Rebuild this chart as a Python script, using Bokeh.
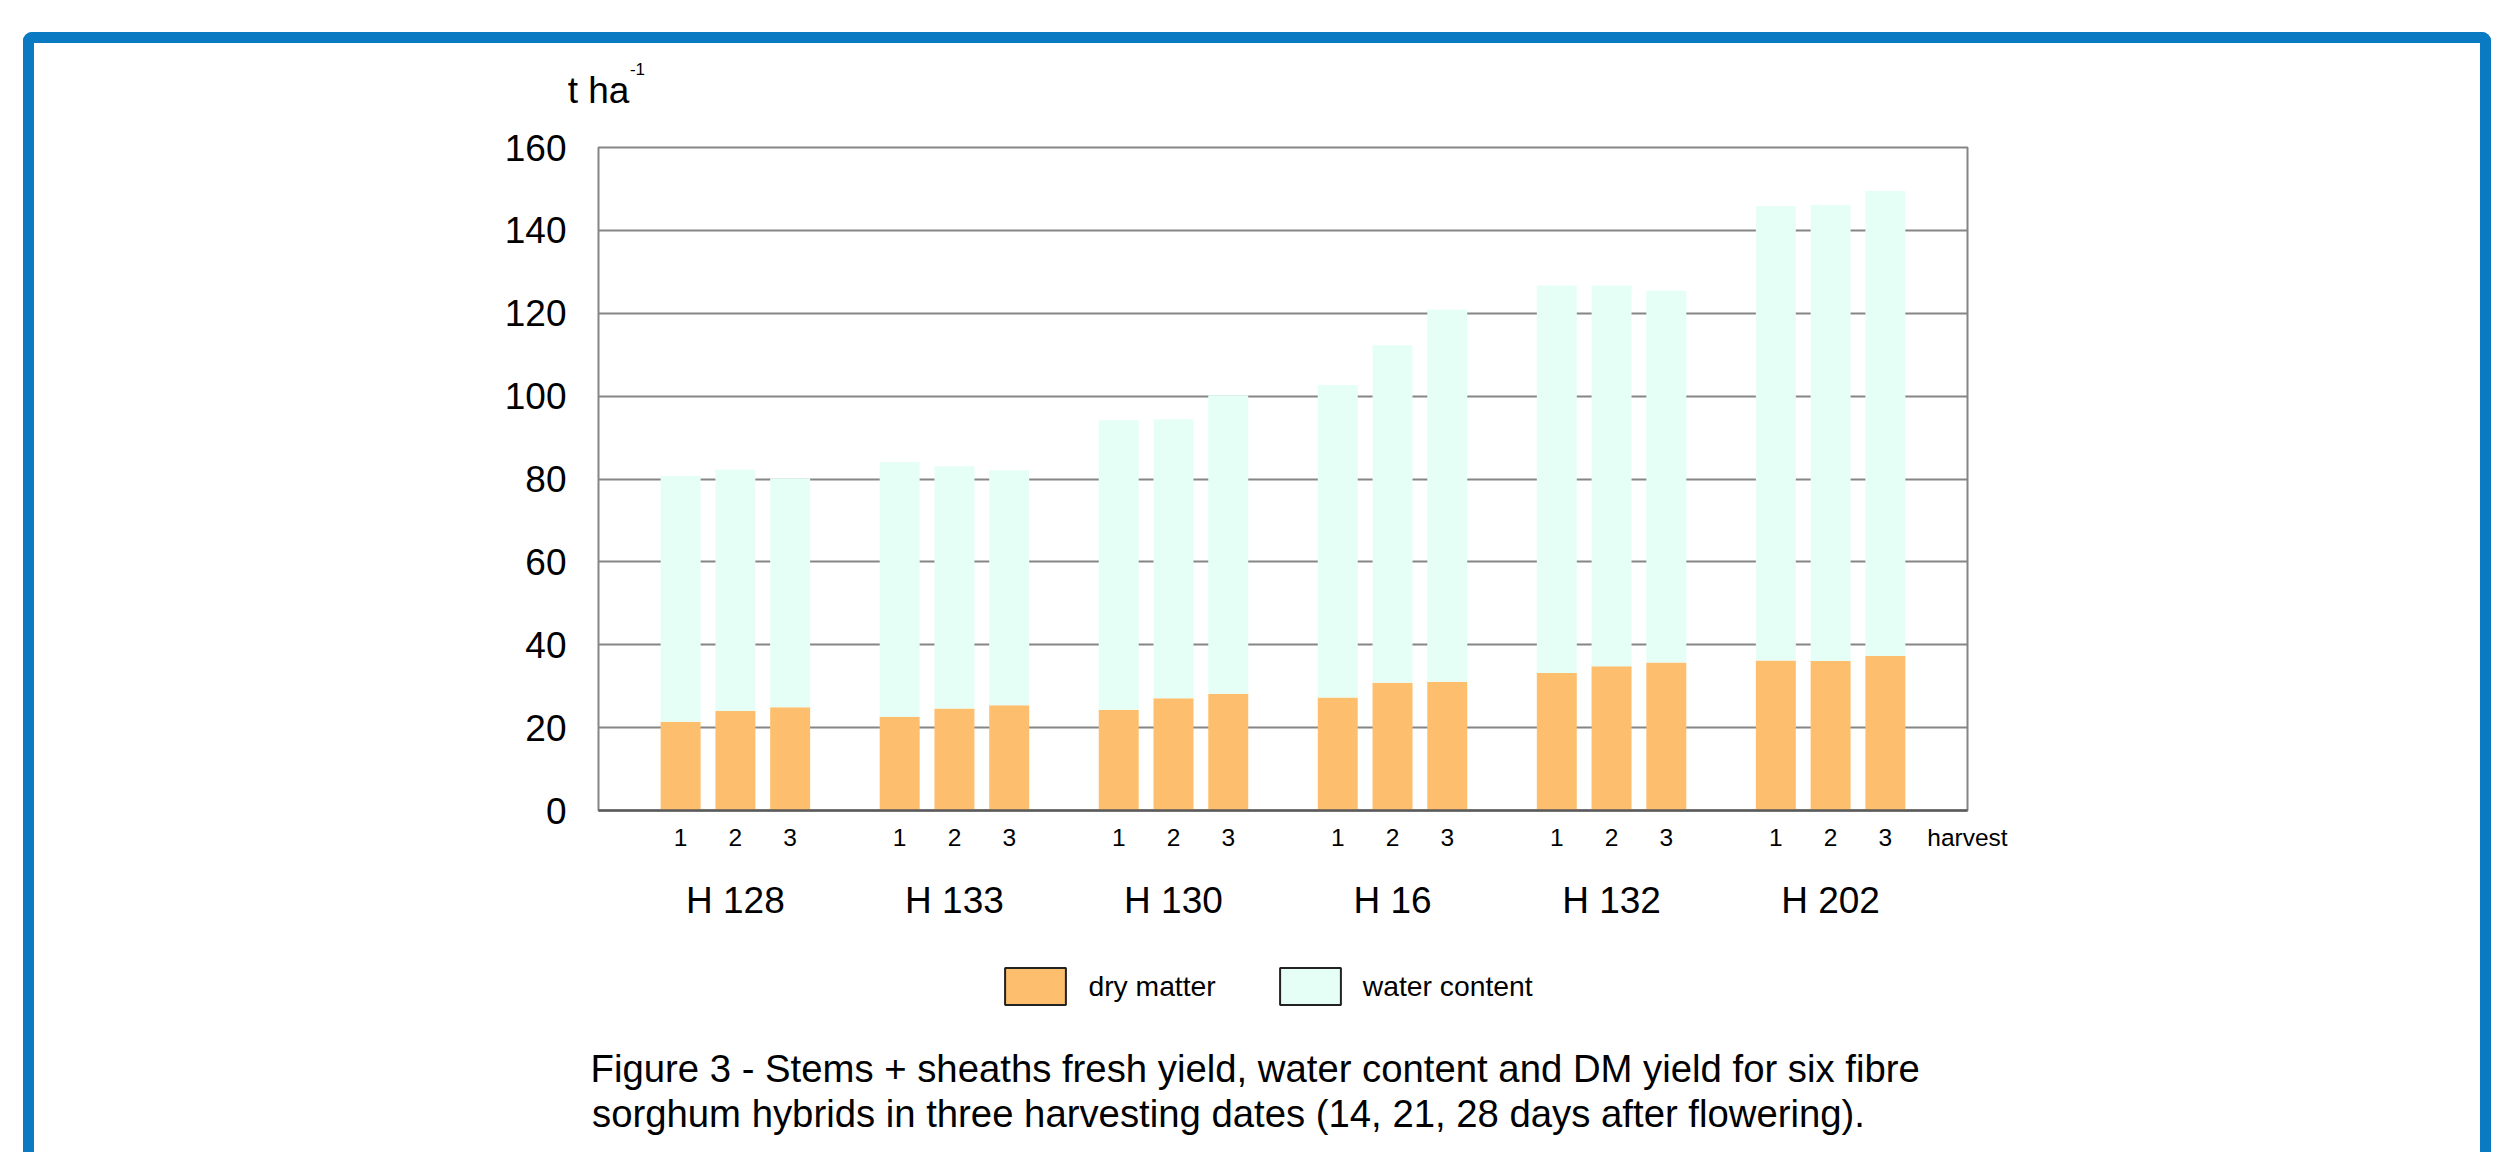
from bokeh.plotting import figure
from bokeh.layouts import column
from bokeh.models import (ColumnDataSource, Range1d, FixedTicker, LinearAxis,
                          Legend, LegendItem, Title)
from bokeh.embed import file_html
from bokeh.resources import INLINE

# ---------------- data ----------------
hybrids = ["H 128", "H 133", "H 130", "H 16", "H 132", "H 202"]
harvests = ["1", "2", "3"]
dry_matter = [21.4, 24.0, 24.9,
              22.6, 24.6, 25.4,
              24.3, 27.1, 28.2,
              27.3, 30.8, 31.1,
              33.2, 34.8, 35.7,
              36.2, 36.1, 37.3]
water_content = [59.3, 58.3, 55.3,
                 61.5, 58.5, 56.7,
                 69.9, 67.3, 72.0,
                 75.4, 81.5, 89.8,
                 93.5, 91.9, 89.7,
                 109.7, 110.0, 112.2]
y_ticks = [0, 20, 40, 60, 80, 100, 120, 140, 160]
legend_labels = ["dry matter", "water content"]
y_unit = "t ha"
y_unit_sup = "-1"
x_axis_name = "harvest"
caption_lines = [
    "Figure 3 - Stems + sheaths fresh yield, water content and DM yield for six fibre",
    "sorghum hybrids in three harvesting dates (14, 21, 28 days after flowering).",
]

# ---------------- style / layout ----------------
ORANGE = "#FDBF6D"
MINT = "#E5FFF7"
BLUE = "#0A7BC2"
GRID = "#858585"
FONT = "Liberation Sans"

OX, OY = 34, 43            # page position of the content (inside the blue frame)
W = 2446
H1 = 900                   # chart figure height
H2 = 1152 - OY - H1        # legend + caption strip height
FL, FR, FT, FB = 564, 1933, 104, 767   # plot frame inside the chart canvas
X0, X1 = -1.5, 23.5
Y0, Y1 = 0, 160
PXU = (FR - FL) / (X1 - X0)


def xpage(px):
    """x data value that sits at page pixel px"""
    return X0 + (px - OX - FL) / PXU


n_h = len(harvests)
xs = [g * (n_h + 1) + h for g in range(len(hybrids)) for h in range(n_h)]
gx = [g * (n_h + 1) + (n_h - 1) / 2 for g in range(len(hybrids))]
src = ColumnDataSource(dict(x=xs, dry=dry_matter, water=water_content))

# ================= chart =================
p = figure(width=W, height=H1, x_range=Range1d(X0, X1), y_range=Range1d(Y0, Y1),
           output_backend="svg", toolbar_location=None,
           min_border_left=FL, min_border_right=W - FR,
           min_border_top=FT, min_border_bottom=H1 - FB)
p.title.visible = False
p.background_fill_color = "white"
p.border_fill_color = "white"
p.outline_line_color = GRID
p.outline_line_width = 2

p.vbar_stack(["dry", "water"], x="x", width=0.73, color=[ORANGE, MINT],
             line_color=None, source=src)

p.xgrid.visible = False
p.ygrid.grid_line_color = GRID
p.ygrid.grid_line_width = 2

# y axis
p.yaxis.ticker = FixedTicker(ticks=y_ticks)
p.yaxis.axis_line_color = None
p.yaxis.major_tick_line_color = None
p.yaxis.minor_tick_line_color = None
p.yaxis.major_tick_out = 0
p.yaxis.major_label_standoff = 32
p.yaxis.major_label_text_font = FONT
p.yaxis.major_label_text_font_size = "37px"
p.yaxis.major_label_text_color = "black"

# x axis: harvest numbers (+ the word "harvest" at the right end)
x_end = X1 - 0.001
p.xaxis.ticker = FixedTicker(ticks=xs + [x_end])
overrides = {x: harvests[i % n_h] for i, x in enumerate(xs)}
overrides[x_end] = x_axis_name
p.xaxis.major_label_overrides = overrides
p.xaxis.axis_line_color = "#5a5a5a"
p.xaxis.axis_line_width = 2.5
p.xaxis.major_tick_line_color = None
p.xaxis.minor_tick_line_color = None
p.xaxis.major_tick_out = 0
p.xaxis.major_label_standoff = 13
p.xaxis.major_label_text_font = FONT
p.xaxis.major_label_text_font_size = "24.5px"
p.xaxis.major_label_text_color = "black"


def bare_axis(ticks, labels, standoff, size):
    ax = LinearAxis(ticker=FixedTicker(ticks=ticks),
                    major_label_overrides=dict(zip(ticks, labels)))
    ax.axis_line_color = None
    ax.major_tick_line_color = None
    ax.minor_tick_line_color = None
    ax.major_tick_out = 0
    ax.major_tick_in = 0
    ax.major_label_standoff = standoff
    ax.major_label_text_font = FONT
    ax.major_label_text_font_size = size
    ax.major_label_text_color = "black"
    return ax


# hybrid names under each group of bars
p.add_layout(bare_axis(gx, hybrids, 26, "37px"), "below")

# unit "t ha-1" above the y axis
p.add_layout(bare_axis([X0 + 0.001], [y_unit], 37, "37px"), "above")
p.add_layout(bare_axis([xpage(637)], [y_unit_sup], -8, "17px"), "above")

# ================= legend + caption strip =================
# (its plot frame is aligned with the chart's frame by the column layout,
#  so x is expressed in page pixels over that frame)
CAP_TOP = 1046                      # page y of the caption block top
q = figure(width=W, height=H2, x_range=Range1d(OX + FL, OX + FR), y_range=Range1d(0, 1),
           output_backend="svg", toolbar_location=None,
           x_axis_location=None, y_axis_location=None,
           min_border_left=0, min_border_right=0,
           min_border_top=0, min_border_bottom=(OY + H1 + H2) - CAP_TOP)
q.title.visible = False
q.grid.visible = False
q.outline_line_color = None
q.background_fill_color = "white"
q.border_fill_color = "white"

# hidden copies of the two series, used only for the legend swatches
r_dm = q.vbar(x="x", top="dry", width=0.73, source=src, fill_color=ORANGE,
              line_color="#222222", line_width=2, visible=False)
r_wc = q.vbar(x="x", top="water", width=0.73, source=src, fill_color=MINT,
              line_color="#222222", line_width=2, visible=False)
LEG_LEFT, LEG_TOP, LEG_H, LEG_W = 997.4, 963.4, 46, 76
legend = Legend(items=[LegendItem(label=legend_labels[0], renderers=[r_dm]),
                       LegendItem(label=legend_labels[1], renderers=[r_wc])],
                location=(LEG_LEFT - (OX + FL), CAP_TOP - (LEG_TOP + LEG_H)),
                orientation="horizontal",
                glyph_width=LEG_W, glyph_height=LEG_H, label_standoff=15, spacing=56,
                padding=0, margin=0, border_line_color=None, background_fill_alpha=0,
                label_text_font=FONT, label_text_font_size="28.3px",
                label_text_color="black")
q.add_layout(legend)

for i, line in enumerate(caption_lines):
    q.add_layout(Title(text=line, align="left", offset=-8 if i == 0 else -6.5,
                       vertical_align="top", standoff=0 if i == 0 else 1,
                       text_font=FONT, text_font_size="38.3px",
                       text_font_style="normal", text_color="black"), "below")

layout = column(p, q, spacing=0, styles={
    "margin-left": "23px",
    "margin-top": "32px",
    "border-style": "solid",
    "border-color": BLUE,
    "border-width": "11px 11px 0px 11px",
    "border-radius": "9px 9px 0px 0px",
    "box-sizing": "content-box",
})

open("out.html", "w").write(file_html(layout, INLINE))
